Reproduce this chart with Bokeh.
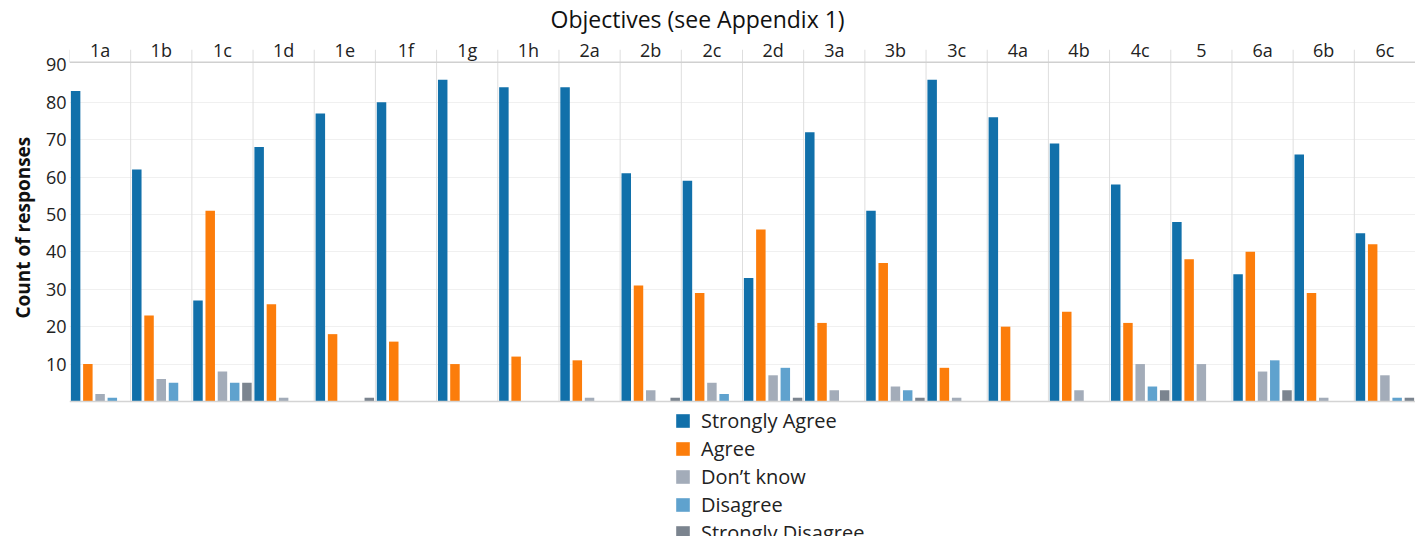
from bokeh.plotting import figure
from bokeh.models import (FactorRange, Range1d, FixedTicker, Legend, LegendItem,
                          ColumnDataSource, Span, Title)
from bokeh.transform import dodge
from bokeh.embed import file_html
from bokeh.resources import INLINE

objectives = ["1a", "1b", "1c", "1d", "1e", "1f", "1g", "1h", "2a", "2b", "2c",
              "2d", "3a", "3b", "3c", "4a", "4b", "4c", "5", "6a", "6b", "6c"]
responses = ["Strongly Agree", "Agree", "Don\u2019t know", "Disagree", "Strongly Disagree"]

strongly_agree = [83, 62, 27, 68, 77, 80, 86, 84, 84, 61, 59, 33, 72, 51, 86, 76, 69, 58, 48, 34, 66, 45]
agree = [10, 23, 51, 26, 18, 16, 10, 12, 11, 31, 29, 46, 21, 37, 9, 20, 24, 21, 38, 40, 29, 42]
dont_know = [2, 6, 8, 1, 0, 0, 0, 0, 1, 3, 5, 7, 3, 4, 1, 0, 3, 10, 10, 8, 1, 7]
disagree = [1, 5, 5, 0, 0, 0, 0, 0, 0, 0, 2, 9, 0, 3, 0, 0, 0, 4, 0, 11, 0, 1]
strongly_disagree = [0, 0, 5, 0, 1, 0, 0, 0, 0, 1, 0, 1, 0, 1, 0, 0, 0, 3, 0, 3, 0, 1]

series = [strongly_agree, agree, dont_know, disagree, strongly_disagree]
colors = ["#1170aa", "#fc7d0b", "#a3acb9", "#5fa2ce", "#7b848f"]
offsets = [-0.4, -0.2, 0.0, 0.2, 0.4]
label_ticks = [10, 20, 30, 40, 50, 60, 70, 80, 90]
grid_ticks = [10, 20, 30, 40, 50, 60, 70, 80]

AXIS_TOP = 90.7     # top of the value axis (header line)
Y_END = 94.1        # header band above the value axis
Y_START = -36.1     # room under the baseline for the legend
FONT = "Open Sans"

p = figure(x_range=FactorRange(*objectives), y_range=Range1d(Y_START, Y_END),
           width=1415, height=536, output_backend="svg", toolbar_location=None,
           x_axis_location="above", title="Objectives (see Appendix 1)",
           min_border_left=65, min_border_right=0, min_border_top=0, min_border_bottom=0)

p.title.align = "left"
p.title.offset = 481
p.title.standoff = 0
p.title.text_font = FONT
p.title.text_font_size = "23px"
p.title.text_font_style = "normal"
p.title.text_color = "#111111"

p.outline_line_color = None
p.background_fill_color = "white"
p.border_fill_color = "white"

xa = p.xaxis[0]
xa.axis_line_color = None
xa.major_tick_line_color = None
xa.minor_tick_line_color = None
xa.major_label_text_font = FONT
xa.major_label_text_font_size = "18px"
xa.major_label_text_color = "#222222"
xa.major_label_standoff = -18

ya = p.yaxis[0]
ya.ticker = FixedTicker(ticks=label_ticks)
ya.axis_line_color = None
ya.major_tick_line_color = None
ya.minor_tick_line_color = None
ya.major_tick_out = 0
ya.major_tick_in = 0
ya.major_label_text_font = FONT
ya.major_label_text_font_size = "18px"
ya.major_label_text_color = "#222222"
ya.major_label_standoff = 3

ylab = Title(text="Count of responses", align="left", offset=218, standoff=14,
             text_font=FONT, text_font_size="19px", text_font_style="bold",
             text_color="#111111")
p.add_layout(ylab, "left")

p.xgrid.grid_line_color = None
p.ygrid.ticker = FixedTicker(ticks=grid_ticks)
p.ygrid.grid_line_color = "#f0f0f0"

# category dividers (through plot and header band)
div_src = ColumnDataSource(dict(x=objectives[1:]))
p.segment(x0=dodge("x", -0.5, range=p.x_range), y0=0,
          x1=dodge("x", -0.5, range=p.x_range), y1=Y_END,
          line_color="#dedede", line_width=1, source=div_src)
edge_src = ColumnDataSource(dict(x=objectives[:1]))
p.segment(x0=dodge("x", -0.5, range=p.x_range), y0=AXIS_TOP,
          x1=dodge("x", -0.5, range=p.x_range), y1=Y_END,
          line_color="#dedede", line_width=1, source=edge_src)

p.add_layout(Span(location=AXIS_TOP, dimension="width", line_color="#d0d0d0", line_width=1.5))
p.add_layout(Span(location=0, dimension="width", line_color="#d4d4d4", line_width=1.5))

items = []
for name, vals, col, off in zip(responses, series, colors, offsets):
    src = ColumnDataSource(dict(x=objectives, top=vals))
    r = p.vbar(x=dodge("x", off, range=p.x_range), top="top", bottom=0, width=0.155,
               fill_color=col, line_color=None, source=src)
    items.append(LegendItem(label=name, renderers=[r]))

legend = Legend(items=items, orientation="vertical", location=(605, -10),
                label_text_font=FONT, label_text_font_size="20px", label_text_color="#222222",
                glyph_width=17, glyph_height=17, label_height=20, spacing=1,
                padding=5, margin=0, label_standoff=10,
                border_line_color=None, background_fill_alpha=0)
p.add_layout(legend, "center")

open("out.html", "w").write(file_html(p, INLINE))
